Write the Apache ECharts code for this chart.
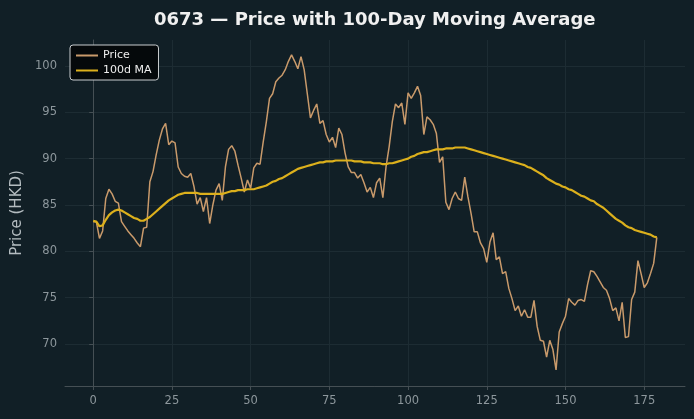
<!DOCTYPE html>
<html>
<head>
<meta charset="utf-8">
<script src="https://cdn.jsdelivr.net/npm/echarts@6/dist/echarts.min.js"></script>
<style>
  html, body { margin: 0; padding: 0; background: #111f26; }
  #main { width: 694px; height: 419px; }
</style>
</head>
<body>
<div id="main"></div>
<script>
// daily closing price, day 0..179
var price = [
  83.2, 83.2, 81.4, 82.2, 85.7, 86.7, 86.2, 85.4, 85.2, 83.2,
  82.7, 82.2, 81.8, 81.4, 80.9, 80.5, 82.5, 82.6, 87.5, 88.6,
  90.4, 92.0, 93.2, 93.8, 91.5, 91.9, 91.7, 89.1, 88.4, 88.1,
  88.0, 88.4, 87.0, 85.1, 85.8, 84.3, 85.8, 83.0, 85.0, 86.6,
  87.3, 85.5, 89.1, 91.0, 91.4, 90.8, 89.3, 87.9, 86.4, 87.7,
  86.8, 89.0, 89.5, 89.4, 91.8, 94.0, 96.5, 97.0, 98.3, 98.7,
  99.0, 99.6, 100.5, 101.2, 100.5, 99.7, 101.0, 99.6, 97.0, 94.4,
  95.2, 95.9, 93.8, 94.1, 92.6, 91.8, 92.3, 91.2, 93.3, 92.6,
  90.6, 89.1, 88.5, 88.5, 87.9, 88.3, 87.4, 86.4, 86.9, 85.8,
  87.4, 87.9, 85.8, 89.1, 91.3, 94.0, 95.9, 95.5, 96.0, 93.7,
  97.1, 96.5, 97.1, 97.8, 96.8, 92.6, 94.5, 94.2, 93.7, 92.7,
  89.6, 90.2, 85.3, 84.5, 85.7, 86.4, 85.7, 85.5, 88.0, 85.9,
  84.1, 82.1, 82.1, 80.9, 80.3, 78.8, 81.0, 82.0, 79.1, 79.4,
  77.6, 77.8, 76.0, 74.9, 73.6, 74.1, 73.0, 73.7, 72.9, 72.9,
  74.7, 71.9, 70.4, 70.3, 68.6, 70.4, 69.4, 67.2, 71.3, 72.2,
  73.0, 74.9, 74.5, 74.2, 74.7, 74.8, 74.6, 76.4, 77.9, 77.8,
  77.3, 76.7, 76.1, 75.8, 74.9, 73.6, 73.9, 72.5, 74.5, 70.7,
  70.8, 74.8, 75.6, 79.0, 77.6, 76.1, 76.6, 77.6, 78.7, 81.5
];

// 100-day moving average as drawn
var ma100 = [
  83.3, 83.2, 82.7, 82.8, 83.4, 83.9, 84.2, 84.4, 84.5, 84.4,
  84.2, 84.0, 83.8, 83.6, 83.5, 83.3, 83.3, 83.5, 83.7, 84.0,
  84.3, 84.6, 84.9, 85.2, 85.5, 85.7, 85.9, 86.1, 86.2, 86.3,
  86.3, 86.3, 86.3, 86.3, 86.2, 86.2, 86.2, 86.2, 86.2, 86.2,
  86.2, 86.2, 86.3, 86.4, 86.5, 86.5, 86.6, 86.6, 86.6, 86.7,
  86.7, 86.7, 86.8, 86.9, 87.0, 87.1, 87.3, 87.5, 87.6, 87.8,
  87.9, 88.1, 88.3, 88.5, 88.7, 88.9, 89.0, 89.1, 89.2, 89.3,
  89.4, 89.5, 89.6, 89.6, 89.7, 89.7, 89.7, 89.8, 89.8, 89.8,
  89.8, 89.8, 89.8, 89.7, 89.7, 89.7, 89.6, 89.6, 89.6, 89.5,
  89.5, 89.5, 89.4, 89.4, 89.5, 89.5, 89.6, 89.7, 89.8, 89.9,
  90.0, 90.2, 90.3, 90.5, 90.6, 90.7, 90.7, 90.8, 90.9, 91.0,
  91.0, 91.0, 91.1, 91.1, 91.1, 91.2, 91.2, 91.2, 91.2, 91.1,
  91.0, 90.9, 90.8, 90.7, 90.6, 90.5, 90.4, 90.3, 90.2, 90.1,
  90.0, 89.9, 89.8, 89.7, 89.6, 89.5, 89.4, 89.3, 89.1, 89.0,
  88.8, 88.6, 88.4, 88.2, 87.9, 87.7, 87.5, 87.3, 87.2, 87.0,
  86.9, 86.7, 86.6, 86.4, 86.2, 86.0, 85.9, 85.7, 85.5, 85.4,
  85.1, 84.9, 84.7, 84.4, 84.1, 83.8, 83.5, 83.3, 83.1, 82.8,
  82.6, 82.5, 82.3, 82.2, 82.1, 82.0, 81.9, 81.8, 81.6, 81.5
];

var xTicks = [0, 25, 50, 75, 100, 125, 150, 175];
var yTicks = [70, 75, 80, 85, 90, 95, 100];

var chart = echarts.init(document.getElementById('main'), null, { renderer: 'canvas' });

function pairs(arr) {
  return arr.map(function (v, i) { return [i, v]; });
}

var labelColor = '#8d979c';
var gridColor = '#1d2c33';
var spineColor = '#454f54';

var option = {
  backgroundColor: '#111f26',
  animation: false,
  textStyle: { fontFamily: 'DejaVu Sans' },
  // title is centred over the plot area, not the page
  title: {
    text: '0673 — Price with 100-Day Moving Average',
    left: 149,
    top: 6,
    textStyle: { color: '#f0f0f0', fontSize: 18, fontWeight: 'bold', fontFamily: 'DejaVu Sans' }
  },
  legend: {
    orient: 'vertical',
    left: 70,
    top: 45,
    padding: [5, 7, 4, 6],
    itemGap: 4,
    itemWidth: 22,
    itemHeight: 2,
    icon: 'rect',
    backgroundColor: '#05090b',
    borderColor: '#c9cdcf',
    borderWidth: 1,
    borderRadius: 3,
    textStyle: { color: '#eeeeee', fontSize: 11, fontFamily: 'DejaVu Sans' },
    data: ['Price', '100d MA']
  },
  grid: { left: 65, right: 9, top: 40, bottom: 33, containLabel: false, outerBoundsMode: 'none' },
  xAxis: {
    type: 'value',
    min: -8.95,
    max: 187.95,
    axisLine: { show: true, lineStyle: { color: spineColor, width: 1 } },
    axisTick: { show: true, customValues: xTicks, length: 4, lineStyle: { color: spineColor } },
    axisLabel: { customValues: xTicks, color: labelColor, fontSize: 11.5, margin: 9 },
    splitLine: { show: true, lineStyle: { color: gridColor, width: 1 } }
  },
  yAxis: {
    type: 'value',
    min: 65.47,
    max: 102.8,
    name: 'Price (HKD)',
    nameLocation: 'middle',
    nameGap: 39,
    nameTextStyle: { color: '#b4bcc0', fontSize: 15 },
    axisLine: { show: true, lineStyle: { color: spineColor, width: 1 } },
    axisTick: { show: true, customValues: yTicks, length: 4, lineStyle: { color: spineColor } },
    axisLabel: { customValues: yTicks, color: labelColor, fontSize: 11.5, margin: 8 },
    splitLine: { show: true, lineStyle: { color: gridColor, width: 1 } }
  },
  series: [
    {
      name: 'Price',
      type: 'line',
      data: pairs(price),
      symbol: 'none',
      color: '#c99a6b',
      lineStyle: { color: '#c99a6b', width: 1.5 },
      z: 2
    },
    {
      name: '100d MA',
      type: 'line',
      data: pairs(ma100),
      symbol: 'none',
      color: '#dcb01c',
      lineStyle: { color: '#dcb01c', width: 2.2 },
      z: 3
    }
  ]
};

chart.setOption(option);
</script>
</body>
</html>
